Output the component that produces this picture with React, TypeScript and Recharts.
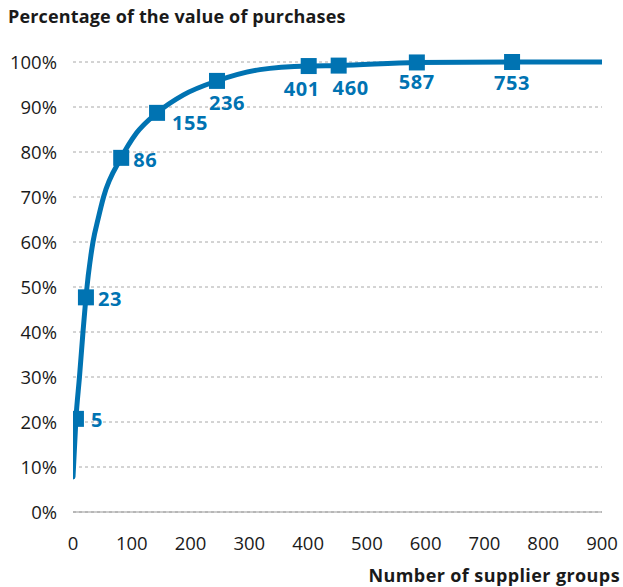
import React from "react";
import { ComposedChart, Line, Scatter, XAxis, YAxis, CartesianGrid } from "recharts";

// Curve (x = number of supplier groups, y = % of value)
const curveX = [0, 5, 11, 17, 22, 34, 43, 52, 82, 108, 143, 188, 245, 318, 401, 452, 585, 747, 900];
const curveY = [7.8, 20.7, 30, 40, 47.7, 60, 65.3, 70, 78.7, 84.2, 88.7, 92.7, 95.8, 98.3, 99.1, 99.2, 99.9, 100, 100];

// Square markers and their labels
const markerX = [5, 22, 82, 143, 245, 401, 452, 585, 747];
const markerY = [20.7, 47.7, 78.7, 88.7, 95.8, 99.1, 99.2, 99.9, 100];
const markerLabels = ["5", "23", "86", "155", "236", "401", "460", "587", "753"];

const xTicks = [0, 100, 200, 300, 400, 500, 600, 700, 800, 900];
const yTicks = [0, 10, 20, 30, 40, 50, 60, 70, 80, 90, 100];

const yTitle = "Percentage of the value of purchases";
const xTitle = "Number of supplier groups";

const curveData = curveX.map((x, i) => ({ x, y: curveY[i] }));
const markerData = markerX.map((x, i) => ({ x, y: markerY[i], label: markerLabels[i] }));

const BLUE = "#0073B2";
const FONT = "'Open Sans', sans-serif";

// label placement relative to marker centre
const labelPlace: Record<string, { dx: number; dy: number; anchor: "start" | "middle" }> = {
  "5": { dx: 15, dy: 1, anchor: "start" },
  "23": { dx: 12, dy: 1, anchor: "start" },
  "86": { dx: 12, dy: 2, anchor: "start" },
  "155": { dx: 15, dy: 10, anchor: "start" },
  "236": { dx: 10, dy: 22, anchor: "middle" },
  "401": { dx: -7, dy: 22, anchor: "middle" },
  "460": { dx: 12, dy: 22, anchor: "middle" },
  "587": { dx: 0, dy: 19, anchor: "middle" },
  "753": { dx: 0, dy: 20, anchor: "middle" },
};

const MarkerShape = (props: any) => {
  const { cx, cy, payload } = props;
  const p = labelPlace[payload.label] || { dx: 12, dy: 0, anchor: "start" };
  return (
    <g>
      <rect x={cx - 8} y={cy - 8} width={16} height={16} fill={BLUE} />
      <text
        x={cx + p.dx}
        y={cy + p.dy}
        textAnchor={p.anchor}
        dominantBaseline="central"
        fill={BLUE}
        fontFamily={FONT}
        fontWeight={700}
        fontSize={20}
        letterSpacing={0.6}
      >
        {payload.label}
      </text>
    </g>
  );
};

export default function App() {
  return (
    <div style={{ position: "absolute", left: 0, top: 0, width: 623, height: 587, background: "#fff" }}>
      <div
        style={{
          position: "absolute",
          left: 8,
          top: 4,
          fontFamily: FONT,
          fontWeight: 700,
          fontSize: 18,
          letterSpacing: 0.15,
          color: "#1a1a1a",
          whiteSpace: "nowrap",
        }}
      >
        {yTitle}
      </div>
      <div
        style={{
          position: "absolute",
          right: 3,
          top: 563,
          fontFamily: FONT,
          fontWeight: 700,
          fontSize: 18,
          letterSpacing: 0.4,
          color: "#1a1a1a",
          whiteSpace: "nowrap",
        }}
      >
        {xTitle}
      </div>
      <ComposedChart
        width={623}
        height={587}
        margin={{ top: 62, right: 21, bottom: 35, left: 0 }}
        style={{ position: "absolute", left: 0, top: 0 }}
      >
        <CartesianGrid
          horizontal={true}
          vertical={false}
          stroke="#a8a8a8"
          strokeDasharray="3 3"
        />
        <XAxis
          type="number"
          dataKey="x"
          domain={[0, 900]}
          ticks={xTicks}
          interval={0}
          height={40}
          tickSize={0}
          tickMargin={25}
          axisLine={{ stroke: "#9a9a9a", strokeWidth: 1.2 }}
          tickLine={false}
          tick={{ fill: "#1a1a1a", fontFamily: FONT, fontSize: 18.5 }}
          allowDataOverflow
        />
        <YAxis
          type="number"
          dataKey="y"
          domain={[0, 100]}
          ticks={yTicks}
          interval={0}
          width={73}
          tickSize={0}
          tickMargin={16}
          axisLine={false}
          tickLine={false}
          tickFormatter={(v: number) => `${v}%`}
          tick={{ fill: "#1a1a1a", fontFamily: FONT, fontSize: 18.5 }}
        />
        <Line
          data={curveData}
          dataKey="y"
          type="monotone"
          stroke={BLUE}
          strokeWidth={5}
          strokeLinecap="round"
          dot={false}
          activeDot={false}
          isAnimationActive={false}
        />
        <Scatter
          data={markerData}
          dataKey="y"
          fill={BLUE}
          shape={MarkerShape}
          isAnimationActive={false}
        />
      </ComposedChart>
    </div>
  );
}
